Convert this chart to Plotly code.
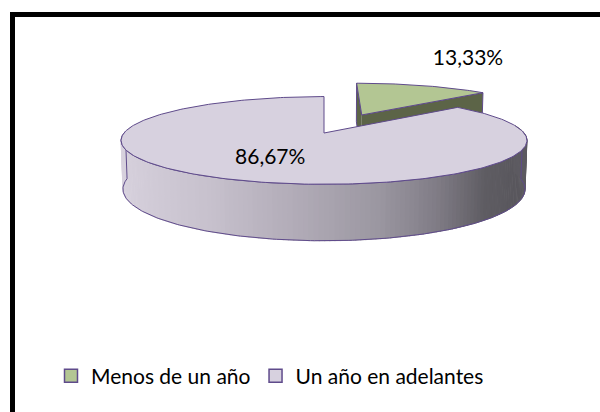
import numpy as np
import plotly.graph_objects as go

# ---- data ----
labels = ["Menos de un año", "Un año en adelantes"]
values = [13.33, 86.67]
pct_text = ["13,33%", "86,67%"]

# ---- style ----
top_colors = ["#b3c693", "#d7d1df"]
green_side = "#5c6447"
edge_color = "#5f4b8b"
explode = [0.5, 0.0]
label_r = [1.25, 0.6]
label_shift = [(32, -20), (0, 0)]

# projection (pixel coordinates)
CX, CY, S = 324.0, 133.0, 200.0
ALPHA = np.radians(12.3)
D = 5.77
H = 0.245
sa, ca = np.sin(ALPHA), np.cos(ALPHA)


def proj(X, Y, Z):
    X = np.asarray(X, float); Y = np.asarray(Y, float); Z = np.asarray(Z, float)
    u = X
    v = Y * sa + Z * ca
    w = D + Y * ca - Z * sa
    return CX + S * u * D / w, CY - S * v * D / w


# side shading by cos(phi)
shade_c = np.array([-1.0, -0.5, -0.12, 0.22, 0.47, 0.71, 0.9, 1.0])
shade_rgb = np.array([
    [217, 211, 223],
    [200, 194, 206],
    [178, 172, 184],
    [156, 152, 162],
    [130, 126, 136],
    [95, 93, 99],
    [89, 87, 93],
    [94, 92, 98],
])


def shade(c):
    r = np.interp(c, shade_c, shade_rgb[:, 0])
    g = np.interp(c, shade_c, shade_rgb[:, 1])
    b = np.interp(c, shade_c, shade_rgb[:, 2])
    return f"rgb({int(r)},{int(g)},{int(b)})"


fig = go.Figure()


def poly(xs, ys, fill, line_color=None, line_width=0.0):
    fig.add_trace(go.Scatter(
        x=list(xs), y=list(ys), mode="lines", fill="toself", fillcolor=fill,
        line=dict(color=line_color or fill, width=line_width),
        hoverinfo="skip", showlegend=False))


total = sum(values)
angles = []
start = 90.0
for v in values:
    sweep = 360.0 * v / total
    angles.append((start, start - sweep))
    start -= sweep

label_pos = []
for i, (a0, a1) in enumerate(angles):
    mid = np.radians((a0 + a1) / 2)
    ox, oy = explode[i] * np.cos(mid), explode[i] * np.sin(mid)
    lx, ly = proj(ox + label_r[i] * np.cos(mid), oy + label_r[i] * np.sin(mid), 0)
    label_pos.append((float(lx) + label_shift[i][0], float(ly) + label_shift[i][1]))

# ---- green slice (back) ----
a0, a1 = angles[0]
mid = np.radians((a0 + a1) / 2)
ox, oy = explode[0] * np.cos(mid), explode[0] * np.sin(mid)
for ang in (a0, a1):
    t = np.radians(ang)
    X = [ox, ox + np.cos(t), ox + np.cos(t), ox]
    Y = [oy, oy + np.sin(t), oy + np.sin(t), oy]
    Z = [0, 0, -H, -H]
    px, py = proj(X, Y, Z)
    poly(px, py, green_side, edge_color, 1)
ts = np.radians(np.linspace(a0, a1, 60))
X = np.concatenate([[ox], ox + np.cos(ts), [ox]])
Y = np.concatenate([[oy], oy + np.sin(ts), [oy]])
px, py = proj(X, Y, np.zeros_like(X))
poly(px, py, top_colors[0], edge_color, 1)

# ---- big slice ----
a0, a1 = angles[1]
mid = np.radians((a0 + a1) / 2)
ox, oy = explode[1] * np.cos(mid), explode[1] * np.sin(mid)
phis = np.linspace(-190, 10, 161)
for k in range(len(phis) - 1):
    t = np.radians(np.linspace(phis[k], phis[k + 1] + 0.3, 3))
    X = np.concatenate([ox + np.cos(t), ox + np.cos(t[::-1])])
    Y = np.concatenate([oy + np.sin(t), oy + np.sin(t[::-1])])
    Z = np.concatenate([np.zeros(3), -H * np.ones(3)])
    px, py = proj(X, Y, Z)
    poly(px, py, shade(np.cos(np.radians((phis[k] + phis[k + 1]) / 2))), None, 0.8)
# side outline
t = np.radians(np.linspace(-182, 2, 200))
X = np.concatenate([ox + np.cos(t), ox + np.cos(t[::-1])])
Y = np.concatenate([oy + np.sin(t), oy + np.sin(t[::-1])])
Z = np.concatenate([np.zeros(200), -H * np.ones(200)])
px, py = proj(X, Y, Z)
fig.add_trace(go.Scatter(x=list(px) + [px[0]], y=list(py) + [py[0]], mode="lines",
                         line=dict(color=edge_color, width=1), hoverinfo="skip", showlegend=False))
# top face
ts = np.radians(np.linspace(a0, a1, 300))
X = np.concatenate([[ox], ox + np.cos(ts), [ox]])
Y = np.concatenate([[oy], oy + np.sin(ts), [oy]])
px, py = proj(X, Y, np.zeros_like(X))
poly(px, py, top_colors[1], edge_color, 1)

# ---- labels ----
fig.add_trace(go.Scatter(
    x=[p[0] for p in label_pos], y=[p[1] for p in label_pos], mode="text",
    text=pct_text, textfont=dict(family="Lato", size=21, color="black"),
    hoverinfo="skip", showlegend=False))

# ---- legend entries ----
for i, name in enumerate(labels):
    fig.add_trace(go.Scatter(
        x=[None], y=[None], mode="markers", name=name,
        marker=dict(symbol="square", size=13, color=top_colors[i],
                    line=dict(color=edge_color, width=1.5)),
        showlegend=True))

fig.update_layout(
    width=600, height=412, autosize=False,
    margin=dict(l=0, r=0, t=0, b=0),
    paper_bgcolor="white", plot_bgcolor="white",
    xaxis=dict(range=[0, 600], visible=False, fixedrange=True),
    yaxis=dict(range=[412, 0], visible=False, fixedrange=True),
    legend=dict(orientation="h", x=0.45, xanchor="center", y=1 - 376 / 412, yanchor="middle",
                font=dict(family="Lato", size=21, color="black"), itemwidth=30,
                bgcolor="rgba(0,0,0,0)"),
    shapes=[
        dict(type="line", xref="x", yref="y", x0=10, x1=600, y0=14.5, y1=14.5,
             line=dict(color="black", width=5)),
        dict(type="line", xref="x", yref="y", x0=12.5, x1=12.5, y0=12, y1=412,
             line=dict(color="black", width=5)),
    ],
)

fig.write_html("out.html", config={"displayModeBar": False},
               post_script="document.body.style.margin='0';document.body.style.overflow='hidden';")
